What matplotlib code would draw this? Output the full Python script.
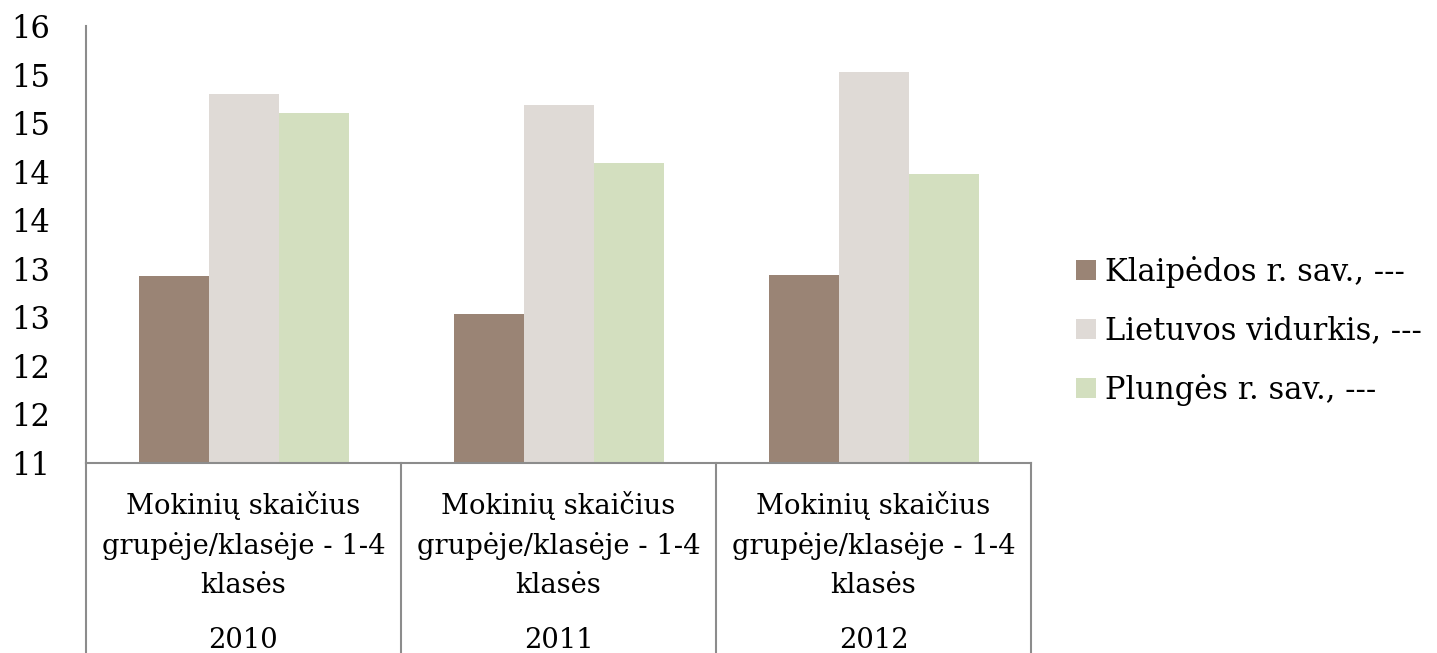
import math
import matplotlib
matplotlib.use("Agg")
import matplotlib.pyplot as plt
import matplotlib.transforms as mtransforms
from matplotlib.patches import Patch
from matplotlib.lines import Line2D

years = ["2010", "2011", "2012"]
category_label = "Mokinių skaičius\ngrupėje/klasėje - 1-4\nklasės"
series_names = ["Klaipėdos r. sav., ---", "Lietuvos vidurkis, ---", "Plungės r. sav., ---"]
klaipedos = [12.93, 12.53, 12.94]
lietuvos = [14.80, 14.69, 15.03]
plunges = [14.60, 14.09, 13.98]
y_ticks = [11, 11.5, 12, 12.5, 13, 13.5, 14, 14.5, 15, 15.5]

colors = ["#9a8475", "#dfdad6", "#d3dfbf"]
line_col = "#8c8c8c"
font = ["DejaVu Serif"]

W, H = 1437, 653
fig = plt.figure(figsize=(W / 100, H / 100), dpi=100)
left, right, top, bottom = 86, 1031, 26, 463
ax = fig.add_axes([left / W, 1 - bottom / H, (right - left) / W, (bottom - top) / H])

bw = 1 / 4.5
x = list(range(len(years)))
for i, (vals, c, name) in enumerate(zip([klaipedos, lietuvos, plunges], colors, series_names)):
    ax.bar([xi + (i - 1) * bw for xi in x], vals, width=bw, color=c, label=name, zorder=2)

ax.set_xlim(-0.5, len(years) - 0.5)
ax.set_ylim(11, 15.5)
ax.set_yticks(y_ticks)
ax.set_yticklabels([str(int(math.floor(v + 0.5))) for v in y_ticks], family=font, fontsize=22)
ax.tick_params(axis="y", length=0, pad=26)
ax.set_xticks([])
for s in ["top", "right"]:
    ax.spines[s].set_visible(False)
for s in ["left", "bottom"]:
    ax.spines[s].set_color(line_col)
    ax.spines[s].set_linewidth(1.5)

# x in data coords, y in figure pixels from the top
tr = mtransforms.blended_transform_factory(ax.transData, fig.transFigure)
fy = lambda py: 1 - py / H

for k in range(len(years) + 1):
    xx = -0.5 + k
    ax.add_line(Line2D([xx, xx], [fy(bottom), fy(H + 2)], color=line_col, lw=1.5,
                       clip_on=False, transform=tr))

for xi, yr in zip(x, years):
    ax.text(xi, fy(593), category_label, transform=tr, ha="center", va="baseline",
            family=font, fontsize=19.7, linespacing=1.55, multialignment="center")
    ax.text(xi, fy(648), yr, transform=tr, ha="center", va="baseline",
            family=font, fontsize=19.7)

handles = [Patch(facecolor=c, edgecolor="none") for c in colors]
fig.legend(handles, series_names, loc="center left", bbox_to_anchor=(1061 / W, fy(331)),
           frameon=False, prop={"family": font, "size": 22}, handlelength=0.65,
           handleheight=0.65, handletextpad=0.28, labelspacing=0.9, borderpad=0)

fig.savefig("out.png", dpi=100)
